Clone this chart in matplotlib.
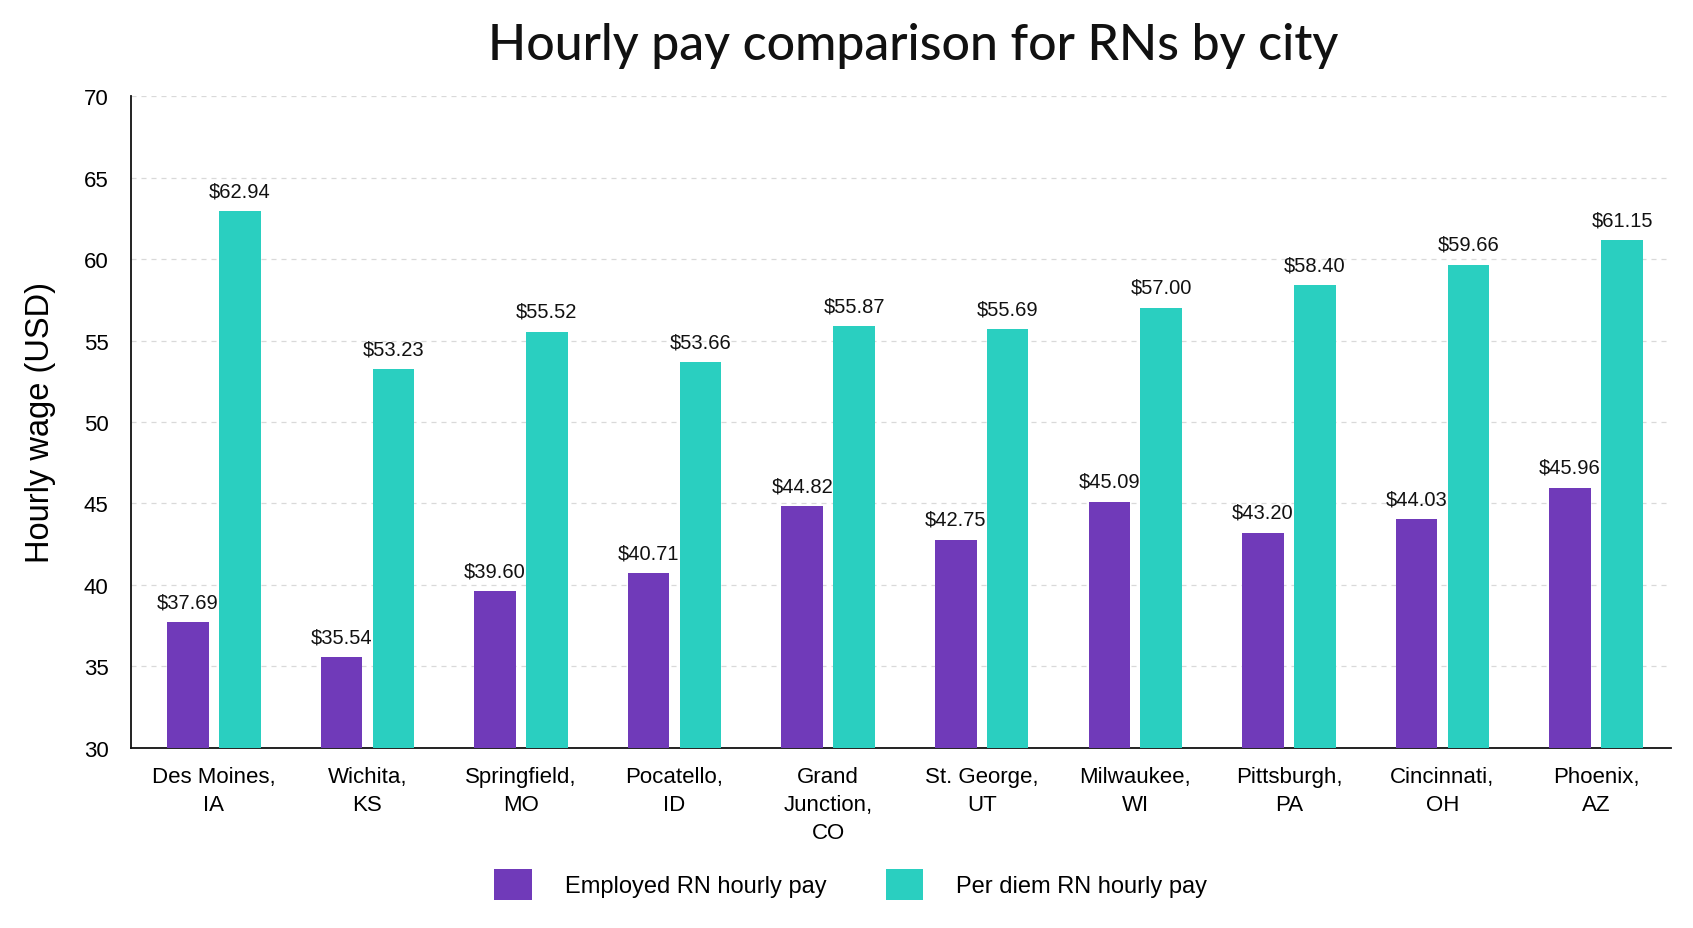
import matplotlib
matplotlib.use("Agg")
import matplotlib.pyplot as plt
import numpy as np
from matplotlib.patches import Patch

cities = ["Des Moines,\nIA", "Wichita,\nKS", "Springfield,\nMO", "Pocatello,\nID",
          "Grand\nJunction,\nCO", "St. George,\nUT", "Milwaukee,\nWI", "Pittsburgh,\nPA",
          "Cincinnati,\nOH", "Phoenix,\nAZ"]
employed = [37.69, 35.54, 39.60, 40.71, 44.82, 42.75, 45.09, 43.20, 44.03, 45.96]
per_diem = [62.94, 53.23, 55.52, 53.66, 55.87, 55.69, 57.00, 58.40, 59.66, 61.15]
series_names = ["Employed RN hourly pay", "Per diem RN hourly pay"]
yticks = [30, 35, 40, 45, 50, 55, 60, 65, 70]

PURPLE = "#703AB9"
TEAL = "#2ACFC0"
FONT = ["Liberation Sans", "DejaVu Sans"]
plt.rcParams["font.family"] = FONT

fig = plt.figure(figsize=(16.93, 9.29), dpi=100)
fig.patch.set_facecolor("white")
ax = fig.add_axes([0.0772, 0.1942, 0.9100, 0.7011])

x = np.arange(len(cities))
w = 0.271
off = (w + 0.067) / 2
b1 = ax.bar(x - off, employed, width=w, color=PURPLE, zorder=3)
b2 = ax.bar(x + off, per_diem, width=w, color=TEAL, zorder=3)

for bars, vals in ((b1, employed), (b2, per_diem)):
    for rect, v in zip(bars, vals):
        ax.annotate(f"${v:.2f}", (rect.get_x() + rect.get_width() / 2, v),
                    xytext=(0, 8), textcoords="offset points",
                    ha="center", va="bottom", fontsize=14.5, color="#111111")

ax.set_ylim(30, 70)
ax.set_xlim(-0.541, 9.49)
ax.set_yticks(yticks)
ax.set_xticks(x)
ax.set_xticklabels(cities, fontsize=16, linespacing=1.45)
ax.tick_params(axis="y", labelsize=16, length=0, pad=16)
ax.tick_params(axis="x", length=0, pad=13)
ax.yaxis.grid(True, linestyle=(0, (4, 4)), color="#d9d9d9", linewidth=0.9, zorder=0)
ax.set_axisbelow(True)
for s in ("top", "right"):
    ax.spines[s].set_visible(False)
for s in ("left", "bottom"):
    ax.spines[s].set_color("#111111")
    ax.spines[s].set_linewidth(1.3)

ax.set_ylabel("Hourly wage (USD)", fontsize=23.5, labelpad=20)
fig.text(0.5395, 0.951, "Hourly pay comparison for RNs by city", ha="center", va="center",
         fontsize=36, family=["Lato", "DejaVu Sans"], fontweight="medium", color="#111111")

handles = [Patch(facecolor=PURPLE, label=series_names[0]),
           Patch(facecolor=TEAL, label=series_names[1])]
fig.legend(handles=handles, loc="center", bbox_to_anchor=(0.5025, 0.047), ncol=2,
           frameon=False, fontsize=17, handlelength=1.6, handleheight=1.6,
           handletextpad=1.4, columnspacing=2.5)

fig.savefig("out.png", dpi=100, facecolor="white")
